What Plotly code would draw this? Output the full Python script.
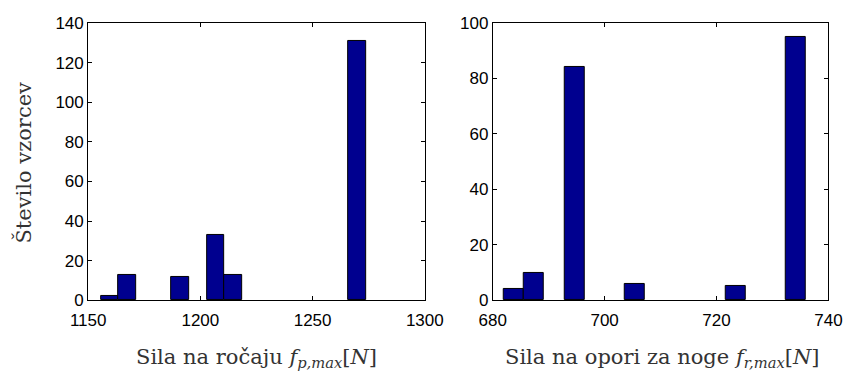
import plotly.graph_objects as go

# Histogram of peak handle force (15 equal bins)
handle_bin_start = 1155.6
handle_bin_width = 7.88
handle_counts = [2, 13, 0, 0, 12, 0, 33, 13, 0, 0, 0, 0, 0, 0, 131]

# Histogram of peak footrest force (15 equal bins)
foot_bin_start = 682.0
foot_bin_width = 3.6
foot_counts = [4, 10, 0, 84, 0, 0, 6, 0, 0, 0, 0, 5, 0, 0, 95]

handle_centers = [handle_bin_start + handle_bin_width * (i + 0.5) for i in range(len(handle_counts))]
foot_centers = [foot_bin_start + foot_bin_width * (i + 0.5) for i in range(len(foot_counts))]

BAR_FILL = "#00008F"
TICK_FONT = dict(family="Liberation Sans, Arial, sans-serif", size=17, color="black")
TITLE_FONT = dict(family="DejaVu Serif, serif", size=21, color="#333333")

W, H = 864, 377


def edge_widths(counts):
    # empty bins get no outline so the baseline stays a single clean line
    return [1 if c else 0 for c in counts]


fig = go.Figure()
fig.add_trace(go.Bar(
    x=handle_centers, y=handle_counts, width=handle_bin_width,
    marker=dict(color=BAR_FILL, line=dict(color="black", width=edge_widths(handle_counts))),
    xaxis="x", yaxis="y", showlegend=False,
))
fig.add_trace(go.Bar(
    x=foot_centers, y=foot_counts, width=foot_bin_width,
    marker=dict(color=BAR_FILL, line=dict(color="black", width=edge_widths(foot_counts))),
    xaxis="x2", yaxis="y2", showlegend=False,
))

axis_common = dict(
    showline=True, linecolor="black", linewidth=1, mirror="ticks",
    ticks="inside", ticklen=4, tickcolor="black", tickwidth=1,
    showgrid=False, zeroline=False, tickfont=TICK_FONT,
)

y_dom = [1 - 306.7 / H, 1 - 14.7 / H]

fig.update_layout(
    width=W, height=H,
    margin=dict(l=0, r=0, t=0, b=0),
    paper_bgcolor="white", plot_bgcolor="white",
    bargap=0,
    xaxis=dict(domain=[73.3 / W, 425 / W], range=[1150, 1300], tickvals=[1150, 1200, 1250, 1300],
               anchor="y", ticklabelstandoff=4, **axis_common),
    yaxis=dict(domain=y_dom, range=[0, 140], tickvals=list(range(0, 141, 20)),
               anchor="x", **axis_common),
    xaxis2=dict(domain=[496 / W, 846.7 / W], range=[680, 740], tickvals=[680, 700, 720, 740],
                anchor="y2", ticklabelstandoff=4, **axis_common),
    yaxis2=dict(domain=y_dom, range=[0, 100], tickvals=list(range(0, 101, 20)),
                anchor="x2", **axis_common),
)

annotations = [
    dict(text="Sila na ročaju <i>f</i><sub><i>p,max</i></sub>[<i>N</i>]",
         x=249.5 / W, y=1 - 367 / H, xref="paper", yref="paper",
         xanchor="center", yanchor="middle", showarrow=False, font=TITLE_FONT),
    dict(text="Sila na opori za noge <i>f</i><sub><i>r,max</i></sub>[<i>N</i>]",
         x=673 / W, y=1 - 367 / H, xref="paper", yref="paper",
         xanchor="center", yanchor="middle", showarrow=False, font=TITLE_FONT),
    dict(text="Število vzorcev", textangle=-90,
         x=6 / W, y=1 - 162 / H, xref="paper", yref="paper",
         xanchor="center", yanchor="middle", showarrow=False, font=TITLE_FONT),
]
fig.update_layout(annotations=annotations)

fig.write_html("out.html")
